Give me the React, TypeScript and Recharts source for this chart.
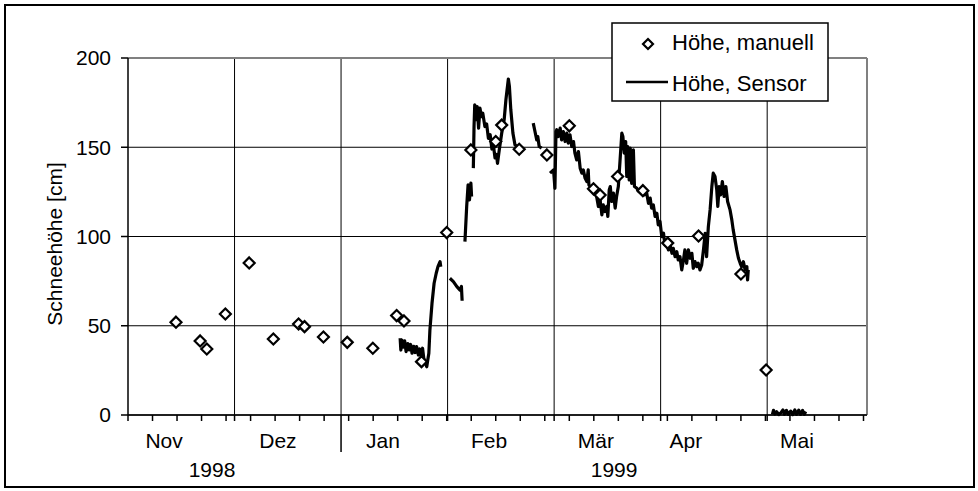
import React from "react";
import {
  ComposedChart,
  Line,
  Scatter,
  XAxis,
  YAxis,
  CartesianGrid,
  ReferenceLine,
} from "recharts";

const FONT = "'Liberation Sans', Arial, sans-serif";

// x = days since 1 Nov 1998
const weekTicks = [0, 7, 14, 21, 28, 35, 42, 49, 56, 63, 70, 77, 84, 91, 98, 105, 112, 119, 126, 133, 140, 147, 154, 161, 168, 175, 182, 189, 196, 203, 210];
const monthStarts = [30.42, 60.83, 91.25, 121.67, 152.08, 182.5];
const monthNames = ["Nov", "Dez", "Jan", "Feb", "Mär", "Apr", "Mai"];
const monthLabelDays = [10.3, 42.8, 72.8, 103.1, 133.6, 159.3, 191];
const yearNames = ["1998", "1999"];
const yearLabelDays = [24, 138.8];
const yearBreakDay = 60.83;
const yTicks = [0, 50, 100, 150, 200];

// Höhe, manuell
const manualDays = [13.7, 20.6, 22.5, 27.8, 34.6, 41.5, 48.7, 50.4, 55.8, 62.6, 69.9, 76.7, 78.8, 83.8, 91, 97.9, 105, 106.7, 111.7, 119.6, 126, 132.9, 134.8, 139.8, 147, 154.1, 162.9, 175, 182.2];
const manualHeights = [52, 41.5, 37, 56.6, 85.2, 42.6, 51, 49.5, 43.7, 40.7, 37.4, 55.7, 52.7, 29.9, 102.2, 148.5, 153.2, 162.4, 148.9, 145.7, 162, 126.7, 123.3, 133.6, 125.7, 96.3, 100.3, 79, 25.2];

// Höhe, Sensor (segments with gaps between them)
const sensorJan = [
  [77.7, 43], [77.9, 36.4], [78.2, 42], [78.6, 38], [79.0, 41.5], [79.4, 35.5], [79.9, 40], [80.3, 36.5],
  [80.7, 39.5], [81.1, 34.6], [81.6, 38.5], [82.0, 35], [82.4, 38.3], [82.9, 33.6], [83.3, 37], [83.7, 33],
  [84.1, 37.4], [84.5, 31], [84.8, 29.9], [85.3, 27], [85.6, 31], [85.9, 34.6], [86.2, 47.6], [86.8, 62.6],
  [87.4, 73.8], [88, 79.4], [88.5, 83.1], [89.1, 85.9], [89.3, 83.1],
];
const sensorFeb1 = [[91.9, 76.6], [92.9, 74.7], [93.9, 71.9], [94.8, 70], [95.2, 72], [95.4, 64]];
const sensorFeb2 = [[96.2, 97.1], [96.7, 116.8], [97.1, 128.9], [97.5, 120.5], [97.9, 129.9], [98.1, 122.4]];
const sensorFeb3 = [
  [98.6, 138.3], [98.8, 161.6], [99, 173.8], [99.4, 165.4], [99.7, 172.8], [100.1, 160.7], [100.5, 171.9],
  [100.9, 167.2], [101.3, 169.1], [101.9, 161.6], [102.4, 163], [102.9, 155], [103.4, 157], [103.9, 149],
  [104.4, 150], [104.8, 144], [105.2, 146], [105.5, 141], [106, 148.5], [106.7, 157.9], [107.4, 165.4],
  [107.9, 176.6], [108.6, 188.2], [108.9, 184], [109.3, 171], [109.9, 157.9], [110.5, 151.3], [111.5, 150],
  [112.4, 149.5],
];
const sensorFeb4 = [[115.7, 163.5], [116.2, 158.8], [116.7, 154.1], [117, 156], [117.4, 150.4], [118.1, 149.5]];
const sensorMarApr = [
  [120.5, 135.5], [121.5, 137.3], [121.9, 127], [122.2, 158.8], [122.4, 159.8], [122.9, 156], [123.4, 160.7],
  [123.8, 154.1], [124.3, 158.8], [124.8, 153.2], [125.3, 157.9], [125.7, 152.3], [126.2, 157], [126.7, 150.4],
  [127.2, 153.2], [127.6, 146.7], [128.1, 142.9], [128.6, 147.6], [129.1, 138.3], [129.6, 135.5], [130, 137.3],
  [130.5, 132.7], [131, 130.8], [131.4, 137.3], [131.6, 128.9], [132.4, 127], [133.2, 125.2], [133.8, 122.4],
  [134.3, 116.8], [134.8, 120.5], [135.3, 112.1], [135.7, 117.7], [136.2, 114], [136.7, 116.8], [137, 111.2],
  [137.4, 126.1], [137.7, 128], [138.1, 119.6], [138.6, 124.3], [139.1, 115.9], [139.5, 122.4], [140, 128],
  [140.5, 142.9], [141, 157.9], [141.3, 156], [141.7, 146.7], [142.1, 153.2], [142.4, 133.6], [142.7, 150.4],
  [143.1, 131.7], [143.4, 149.5], [143.8, 129.8], [144.3, 148.5], [144.6, 128], [145.3, 127], [145.9, 125.2],
  [146.7, 126.1], [147.4, 123.3], [148.1, 124.3], [148.6, 118.6], [149.1, 121.5], [149.5, 115.9], [150, 117.7],
  [150.5, 111.2], [151, 113], [151.4, 106.5], [151.9, 108.4], [152.4, 99.9], [152.9, 101.8], [153.3, 95.3],
  [153.8, 97.1], [154.3, 92.5], [154.8, 95.3], [155.3, 90.6], [155.7, 93.4], [156.2, 88.7], [156.7, 91.5],
  [157.1, 86.9], [157.6, 88.7], [158.1, 81.3], [158.6, 86.9], [159, 92.5], [159.5, 85], [160, 92.5],
  [160.5, 87.8], [161, 90.6], [161.4, 82.2], [161.9, 85.9], [162.4, 83.1], [162.8, 85], [163.3, 81.3],
  [163.8, 84.1], [164.3, 92.5], [164.8, 101.8], [165.2, 88.7], [165.7, 105.5], [166.2, 114.9], [166.7, 128],
  [167.1, 135.5], [167.6, 133.6], [168.1, 126.1], [168.4, 116.8], [168.8, 128], [169.2, 123.3], [169.7, 130.8],
  [170.2, 122.4], [170.7, 128], [171.2, 119.6], [171.9, 114.9], [172.4, 109.3], [172.8, 103.7], [173.3, 98.1],
  [173.8, 92.5], [174.3, 87.8], [174.8, 85], [175.2, 83.1], [175.7, 85.9], [176.2, 81.3], [176.7, 83.1],
  [176.9, 75.7], [177.1, 81.3],
];
const sensorMay = [
  [184, 0.3], [184.3, 2.6], [184.7, 0.5], [185.2, 1.8], [185.8, 0.2], [186.4, 1.2], [187, 2.8], [187.4, 0.4],
  [188, 2.6], [188.5, 0.3], [189.2, 2.2], [189.8, 0.2], [190.4, 2.8], [190.9, 0.4], [191.5, 2.7], [192, 0.3],
  [192.6, 2.6], [193.1, 0.4], [193.5, 2],
];
const sensorSegments = [sensorJan, sensorFeb1, sensorFeb2, sensorFeb3, sensorFeb4, sensorMarApr, sensorMay];

const sensorData: { day: number; h: number | null }[] = [];
sensorSegments.forEach((seg, i) => {
  if (i > 0) {
    const prev = sensorSegments[i - 1];
    sensorData.push({ day: (prev[prev.length - 1][0] + seg[0][0]) / 2, h: null });
  }
  seg.forEach(([day, h]) => sensorData.push({ day, h }));
});

const manualData = manualDays.map((day, i) => ({ day, h: manualHeights[i] }));

const xTicks = [...weekTicks, ...monthStarts, ...monthLabelDays, ...yearLabelDays];

function XTick(props: any) {
  const { x, y, payload } = props;
  const v = payload.value;
  const mi = monthLabelDays.indexOf(v);
  if (mi >= 0) {
    return (
      <text x={x} y={y + 33} textAnchor="middle" fontSize={21} fontFamily={FONT} fill="#000">
        {monthNames[mi]}
      </text>
    );
  }
  const yi = yearLabelDays.indexOf(v);
  if (yi >= 0) {
    return (
      <text x={x} y={y + 62} textAnchor="middle" fontSize={21} fontFamily={FONT} fill="#000">
        {yearNames[yi]}
      </text>
    );
  }
  const len = v === yearBreakDay ? 37 : 6;
  return <line x1={x} x2={x} y1={y} y2={y + len} stroke="#000" strokeWidth={1.5} />;
}

function YTitle(props: any) {
  const { viewBox } = props;
  const x = viewBox.x + 61.5;
  const y = viewBox.y + viewBox.height / 2 + 7.5;
  return (
    <text x={x} y={y} transform={`rotate(-90 ${x} ${y})`} textAnchor="middle" fontSize={21} fontFamily={FONT} fill="#000">
      Schneehöhe [cm]
    </text>
  );
}

function Diamond(props: any) {
  const { cx, cy } = props;
  if (cx == null || cy == null) return null;
  const r = 5.5;
  return (
    <polygon
      points={`${cx},${cy - r} ${cx + r},${cy} ${cx},${cy + r} ${cx - r},${cy}`}
      fill="#fff"
      stroke="#000"
      strokeWidth={2.2}
    />
  );
}

function LegendBox() {
  const r = 5;
  return (
    <svg width={218} height={80} style={{ position: "absolute", left: 611, top: 22 }}>
      <rect x={1} y={1} width={216} height={78} fill="#fff" stroke="#000" strokeWidth={1.5} />
      <polygon points={`${37},${22 - r} ${37 + r},${22} ${37},${22 + r} ${37 - r},${22}`} fill="#fff" stroke="#000" strokeWidth={2.2} />
      <text x={61} y={28} fontSize={22} fontFamily={FONT} fill="#000">Höhe, manuell</text>
      <line x1={15} x2={57} y1={60} y2={60} stroke="#000" strokeWidth={2.5} />
      <text x={61} y={69} fontSize={22} fontFamily={FONT} fill="#000">Höhe, Sensor</text>
    </svg>
  );
}

export default function App() {
  return (
    <div style={{ position: "absolute", left: 0, top: 0, width: 978, height: 491, background: "#fff", fontFamily: FONT }}>
      <div
        style={{
          position: "absolute",
          left: 4,
          top: 4,
          width: 971,
          height: 484,
          border: "2px solid #000",
          boxSizing: "border-box",
        }}
      />
      <div style={{ position: "absolute", left: 0, top: 0 }}>
        <ComposedChart width={978} height={491} margin={{ top: 58, right: 111, bottom: 6, left: 0 }}>
          <CartesianGrid vertical={false} stroke="#000" strokeWidth={1} />
          <XAxis
            dataKey="day"
            type="number"
            domain={[0, 211]}
            allowDataOverflow
            ticks={xTicks}
            interval={0}
            height={70}
            tickLine={false}
            tickSize={0}
            tickMargin={0}
            tick={<XTick />}
            axisLine={{ stroke: "#000", strokeWidth: 1.5 }}
          />
          <YAxis
            dataKey="h"
            type="number"
            domain={[0, 200]}
            ticks={yTicks}
            width={128}
            tickSize={7}
            tickMargin={10}
            tick={{ fontSize: 21, fill: "#000", fontFamily: FONT }}
            tickLine={{ stroke: "#000", strokeWidth: 1.5 }}
            axisLine={{ stroke: "#000", strokeWidth: 1.5 }}
            label={<YTitle />}
          />
          {monthStarts.map((d) => (
            <ReferenceLine key={d} x={d} stroke="#000" strokeWidth={1} />
          ))}
          <ReferenceLine y={200} stroke="#808080" strokeWidth={2} />
          <ReferenceLine x={211} stroke="#808080" strokeWidth={2} />
          <Line
            data={sensorData}
            dataKey="h"
            stroke="#000"
            strokeWidth={3.2}
            strokeLinejoin="round"
            dot={false}
            connectNulls={false}
            isAnimationActive={false}
          />
          <Scatter data={manualData} dataKey="h" shape={<Diamond />} isAnimationActive={false} />
        </ComposedChart>
      </div>
      <LegendBox />
    </div>
  );
}
